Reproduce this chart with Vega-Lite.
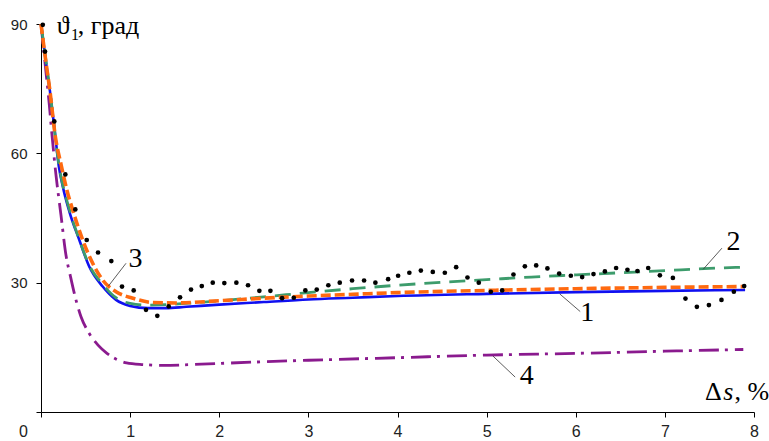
{
  "$schema": "https://vega.github.io/schema/vega-lite/v6.json",
  "width": 713,
  "height": 388,
  "autosize": {"type": "none"},
  "padding": {"left": 41, "top": 24, "right": 15, "bottom": 29},
  "background": "white",
  "config": {"view": {"stroke": null}},
  "datasets": {
    "curves": [
      {"s": "4", "x": 0, "y": 90}, {"s": "4", "x": 0.05, "y": 80}, {"s": "4", "x": 0.093, "y": 71.3}, {"s": "4", "x": 0.12, "y": 65}, {"s": "4", "x": 0.168, "y": 55}, {"s": "4", "x": 0.224, "y": 45.7}, {"s": "4", "x": 0.28, "y": 36.4}, {"s": "4", "x": 0.33, "y": 31.5}, {"s": "4", "x": 0.374, "y": 27.5}, {"s": "4", "x": 0.449, "y": 22.1}, {"s": "4", "x": 0.53, "y": 18.6}, {"s": "4", "x": 0.64, "y": 15.5}, {"s": "4", "x": 0.74, "y": 13.6}, {"s": "4", "x": 0.85, "y": 12.2}, {"s": "4", "x": 0.96, "y": 11.4}, {"s": "4", "x": 1.15, "y": 11.0}, {"s": "4", "x": 1.37, "y": 10.8}, {"s": "4", "x": 1.8, "y": 11.1}, {"s": "4", "x": 2.42, "y": 11.6}, {"s": "4", "x": 3, "y": 12.0}, {"s": "4", "x": 4, "y": 12.6}, {"s": "4", "x": 5, "y": 13.2}, {"s": "4", "x": 6, "y": 13.6}, {"s": "4", "x": 7, "y": 14.1}, {"s": "4", "x": 7.88, "y": 14.5},
      {"s": "1", "x": 0, "y": 90}, {"s": "1", "x": 0.05, "y": 82}, {"s": "1", "x": 0.1, "y": 74.5}, {"s": "1", "x": 0.15, "y": 66}, {"s": "1", "x": 0.2, "y": 57}, {"s": "1", "x": 0.25, "y": 51.8}, {"s": "1", "x": 0.318, "y": 46.5}, {"s": "1", "x": 0.43, "y": 39.9}, {"s": "1", "x": 0.542, "y": 33.7}, {"s": "1", "x": 0.692, "y": 29.1}, {"s": "1", "x": 0.842, "y": 26}, {"s": "1", "x": 1.0, "y": 24.6}, {"s": "1", "x": 1.2, "y": 24.1}, {"s": "1", "x": 1.4, "y": 24.1}, {"s": "1", "x": 1.63, "y": 24.4}, {"s": "1", "x": 2, "y": 24.9}, {"s": "1", "x": 2.5, "y": 25.5}, {"s": "1", "x": 3, "y": 26.1}, {"s": "1", "x": 3.5, "y": 26.5}, {"s": "1", "x": 4, "y": 26.9}, {"s": "1", "x": 5, "y": 27.4}, {"s": "1", "x": 6, "y": 27.8}, {"s": "1", "x": 7, "y": 28.1}, {"s": "1", "x": 7.9, "y": 28.3},
      {"s": "2", "x": 0, "y": 90}, {"s": "2", "x": 0.1, "y": 74.5}, {"s": "2", "x": 0.2, "y": 57.5}, {"s": "2", "x": 0.318, "y": 47}, {"s": "2", "x": 0.43, "y": 40}, {"s": "2", "x": 0.542, "y": 34}, {"s": "2", "x": 0.692, "y": 29.6}, {"s": "2", "x": 0.842, "y": 26.5}, {"s": "2", "x": 1.0, "y": 25.2}, {"s": "2", "x": 1.2, "y": 24.8}, {"s": "2", "x": 1.4, "y": 24.9}, {"s": "2", "x": 1.7, "y": 25.3}, {"s": "2", "x": 2, "y": 25.8}, {"s": "2", "x": 2.5, "y": 26.7}, {"s": "2", "x": 3, "y": 27.7}, {"s": "2", "x": 3.5, "y": 28.6}, {"s": "2", "x": 4, "y": 29.4}, {"s": "2", "x": 4.5, "y": 30.1}, {"s": "2", "x": 5, "y": 30.7}, {"s": "2", "x": 5.5, "y": 31.3}, {"s": "2", "x": 6, "y": 31.8}, {"s": "2", "x": 6.5, "y": 32.3}, {"s": "2", "x": 7, "y": 32.8}, {"s": "2", "x": 7.5, "y": 33.3}, {"s": "2", "x": 7.9, "y": 33.6},
      {"s": "3", "x": 0, "y": 90}, {"s": "3", "x": 0.05, "y": 82}, {"s": "3", "x": 0.1, "y": 74.5}, {"s": "3", "x": 0.16, "y": 64}, {"s": "3", "x": 0.224, "y": 57.5}, {"s": "3", "x": 0.29, "y": 51.5}, {"s": "3", "x": 0.355, "y": 46.9}, {"s": "3", "x": 0.468, "y": 39.9}, {"s": "3", "x": 0.58, "y": 34.5}, {"s": "3", "x": 0.692, "y": 30.6}, {"s": "3", "x": 0.842, "y": 27.9}, {"s": "3", "x": 1.03, "y": 26.4}, {"s": "3", "x": 1.25, "y": 25.4}, {"s": "3", "x": 1.52, "y": 25.3}, {"s": "3", "x": 2, "y": 25.8}, {"s": "3", "x": 2.5, "y": 26.4}, {"s": "3", "x": 3, "y": 26.9}, {"s": "3", "x": 3.5, "y": 27.3}, {"s": "3", "x": 4, "y": 27.7}, {"s": "3", "x": 5, "y": 28.2}, {"s": "3", "x": 6, "y": 28.6}, {"s": "3", "x": 7, "y": 28.9}, {"s": "3", "x": 7.9, "y": 29.1}
    ],
    "dots": [
      {"x": 0.02, "y": 89.8}, {"x": 0.045, "y": 83.6}, {"x": 0.149, "y": 67.4}, {"x": 0.273, "y": 55.1}, {"x": 0.385, "y": 47.0}, {"x": 0.513, "y": 39.9}, {"x": 0.64, "y": 37.0}, {"x": 0.789, "y": 35.0}, {"x": 0.909, "y": 29.1}, {"x": 1.04, "y": 28.2},
      {"x": 1.178, "y": 23.7}, {"x": 1.305, "y": 22.3}, {"x": 1.433, "y": 24.5}, {"x": 1.56, "y": 26.6}, {"x": 1.683, "y": 28.4}, {"x": 1.804, "y": 29.2}, {"x": 1.927, "y": 30.0}, {"x": 2.057, "y": 29.9}, {"x": 2.192, "y": 30.0}, {"x": 2.323, "y": 29.4},
      {"x": 2.45, "y": 28.1}, {"x": 2.574, "y": 28.1}, {"x": 2.705, "y": 26.4}, {"x": 2.836, "y": 26.5}, {"x": 2.966, "y": 28.2}, {"x": 3.094, "y": 28.4}, {"x": 3.224, "y": 29.4}, {"x": 3.352, "y": 30.0}, {"x": 3.49, "y": 30.5}, {"x": 3.625, "y": 30.5},
      {"x": 3.752, "y": 30.0}, {"x": 3.895, "y": 30.8}, {"x": 4.007, "y": 31.6}, {"x": 4.133, "y": 32.3}, {"x": 4.262, "y": 32.8}, {"x": 4.396, "y": 32.5}, {"x": 4.531, "y": 32.3}, {"x": 4.658, "y": 33.6}, {"x": 4.785, "y": 31.2}, {"x": 4.912, "y": 30.0},
      {"x": 5.047, "y": 27.9}, {"x": 5.174, "y": 28.2}, {"x": 5.301, "y": 31.9}, {"x": 5.429, "y": 33.8}, {"x": 5.556, "y": 34.0}, {"x": 5.682, "y": 33.3}, {"x": 5.814, "y": 32.1}, {"x": 5.945, "y": 31.6}, {"x": 6.072, "y": 31.3}, {"x": 6.199, "y": 32.0},
      {"x": 6.327, "y": 32.6}, {"x": 6.453, "y": 33.4}, {"x": 6.58, "y": 33.0}, {"x": 6.692, "y": 32.7}, {"x": 6.813, "y": 33.4}, {"x": 6.944, "y": 31.7}, {"x": 7.09, "y": 31.1}, {"x": 7.231, "y": 26.3}, {"x": 7.359, "y": 24.4}, {"x": 7.494, "y": 24.8},
      {"x": 7.635, "y": 26.0}, {"x": 7.774, "y": 27.9}, {"x": 7.89, "y": 29.2}
    ],
    "leaders": [
      {"x": 0.954, "y": 34.5, "x2": 0.756, "y2": 29.2},
      {"x": 7.64, "y": 38.0, "x2": 7.43, "y2": 33.1},
      {"x": 6.05, "y": 23.3, "x2": 5.82, "y2": 27.4},
      {"x": 5.32, "y": 8.1, "x2": 5.07, "y2": 13.0}
    ],
    "numbers": [
      {"t": "3", "x": 1.06, "y": 35.6},
      {"t": "2", "x": 7.77, "y": 39.5},
      {"t": "1", "x": 6.13, "y": 22.9},
      {"t": "4", "x": 5.45, "y": 8.3}
    ],
    "titles": [
      {"t": "ϑ", "x": 0.176, "y": 87.6},
      {"t": ", град", "x": 0.412, "y": 87.6},
      {"t": "Δ", "x": 7.45, "y": 2.7},
      {"t": ", %", "x": 7.78, "y": 2.7}
    ],
    "subs": [{"t": "1", "x": 0.337, "y": 86.4}],
    "italics": [{"t": "s", "x": 7.655, "y": 2.7}]
  },
  "encoding": {
    "x": {
      "field": "x", "type": "quantitative",
      "scale": {"domain": [0, 8], "nice": false, "zero": false},
      "axis": {
        "title": null, "grid": false, "values": [0, 1, 2, 3, 4, 5, 6, 7, 8], "format": "d",
        "domainColor": "#000", "domainWidth": 1, "tickColor": "#000", "tickSize": 5, "tickWidth": 1,
        "labelFont": "Liberation Sans", "labelFontSize": 16, "labelColor": "#222", "labelPadding": 6,
        "labelFlush": false, "labelOverlap": false,
        "labelOffset": {"condition": {"test": "datum.value == 0", "value": -18}, "value": 0}
      }
    },
    "y": {
      "field": "y", "type": "quantitative",
      "scale": {"domain": [0, 90], "nice": false, "zero": false},
      "axis": {
        "title": null, "grid": false, "values": [0, 30, 60, 90],
        "labelExpr": "datum.value == 0 ? '' : datum.label",
        "domainColor": "#000", "domainWidth": 1, "tickColor": "#000", "tickSize": 5, "tickWidth": 1,
        "labelFont": "Liberation Sans", "labelFontSize": 15, "labelColor": "#222", "labelPadding": 9,
        "labelFlush": false, "labelOverlap": false
      }
    }
  },
  "layer": [
    {
      "data": {"name": "curves"},
      "transform": [{"filter": "datum.s == '4'"}],
      "mark": {"type": "line", "color": "#8a1a8e", "strokeWidth": 2.8, "strokeDash": [20, 6, 3, 7], "interpolate": "monotone"}
    },
    {
      "data": {"name": "curves"},
      "transform": [{"filter": "datum.s == '1'"}],
      "mark": {"type": "line", "color": "#1010f0", "strokeWidth": 2.6, "interpolate": "monotone"}
    },
    {
      "data": {"name": "curves"},
      "transform": [{"filter": "datum.s == '2'"}],
      "mark": {"type": "line", "color": "#3d9c6c", "strokeWidth": 2.8, "strokeDash": [16, 9], "interpolate": "monotone"}
    },
    {
      "data": {"name": "curves"},
      "transform": [{"filter": "datum.s == '3'"}],
      "mark": {"type": "line", "color": "#ff6a10", "strokeWidth": 3.6, "strokeDash": [10, 4], "interpolate": "monotone"}
    },
    {
      "data": {"name": "dots"},
      "mark": {"type": "circle", "color": "#000", "size": 22, "opacity": 1}
    },
    {
      "data": {"name": "leaders"},
      "mark": {"type": "rule", "color": "#333", "strokeWidth": 0.8},
      "encoding": {"x2": {"field": "x2"}, "y2": {"field": "y2"}}
    },
    {
      "data": {"name": "numbers"},
      "mark": {"type": "text", "font": "Liberation Serif", "fontSize": 28, "align": "center", "baseline": "middle", "color": "#000"},
      "encoding": {"text": {"field": "t"}}
    },
    {
      "data": {"name": "titles"},
      "mark": {"type": "text", "font": "Liberation Serif", "fontSize": 26, "align": "left", "baseline": "alphabetic", "color": "#000"},
      "encoding": {"text": {"field": "t"}}
    },
    {
      "data": {"name": "subs"},
      "mark": {"type": "text", "font": "Liberation Serif", "fontSize": 16, "align": "left", "baseline": "alphabetic", "color": "#000"},
      "encoding": {"text": {"field": "t"}}
    },
    {
      "data": {"name": "italics"},
      "mark": {"type": "text", "font": "Liberation Serif", "fontSize": 26, "fontStyle": "italic", "align": "left", "baseline": "alphabetic", "color": "#000"},
      "encoding": {"text": {"field": "t"}}
    }
  ]
}
